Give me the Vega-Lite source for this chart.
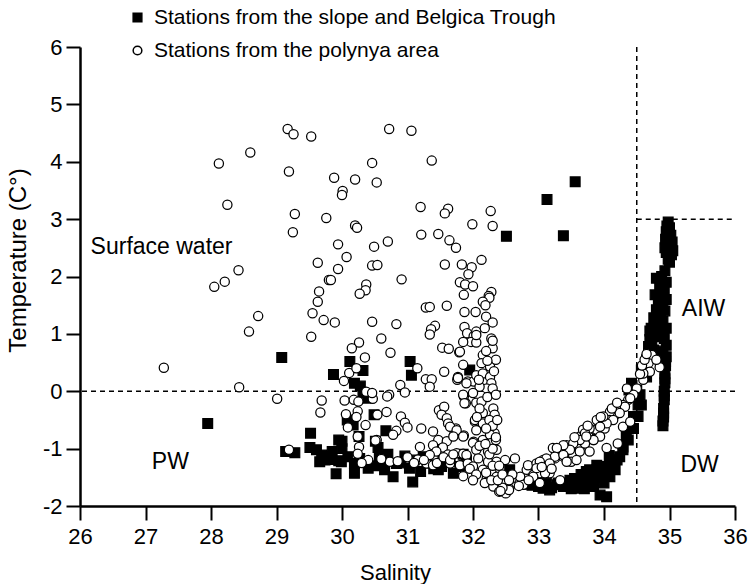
{
"$schema": "https://vega.github.io/schema/vega-lite/v6.json",
"width": 655, "height": 459,
"autosize": {"type": "none"},
"padding": {"left": 80, "top": 47, "right": 19, "bottom": 78},
"background": "white",
"config": {"view": {"stroke": null}, "font": "Liberation Sans"},
"datasets": {
"pts": [
{"g":"A","s":27.95,"t":-0.56},{"g":"A","s":29.08,"t":0.59},{"g":"A","s":29.87,"t":0.29},{"g":"A","s":30.12,"t":0.52},{"g":"A","s":30.32,"t":0.36},{"g":"A","s":30.19,"t":0.14},{"g":"A","s":30.28,"t":0.09},{"g":"A","s":30.32,"t":-0.03},{"g":"A","s":30.37,"t":-0.12},{"g":"A","s":31.04,"t":0.52},{"g":"A","s":31.06,"t":0.28},{"g":"A","s":30.49,"t":-0.41},{"g":"A","s":30.17,"t":-0.59},{"g":"A","s":30.08,"t":-0.5},{"g":"A","s":29.52,"t":-0.73},{"g":"A","s":30.0,"t":-0.87},{"g":"A","s":30.26,"t":-0.79},{"g":"A","s":30.51,"t":-0.87},{"g":"A","s":30.67,"t":-0.69},{"g":"A","s":30.55,"t":-0.98},{"g":"A","s":31.95,"t":0.37},{"g":"A","s":32.51,"t":2.7},{"g":"A","s":33.13,"t":3.34},{"g":"A","s":33.38,"t":2.71},{"g":"A","s":33.56,"t":3.65},{"g":"A","s":29.95,"t":-0.85},
{"g":"A","s":29.14,"t":-1.05},{"g":"A","s":29.28,"t":-1.07},{"g":"A","s":29.51,"t":-0.98},{"g":"A","s":29.61,"t":-1.02},{"g":"A","s":29.69,"t":-1.11},{"g":"A","s":29.76,"t":-1.14},{"g":"A","s":29.66,"t":-1.23},{"g":"A","s":29.74,"t":-1.2},{"g":"A","s":29.81,"t":-1.19},{"g":"A","s":29.91,"t":-1.44},{"g":"A","s":29.95,"t":-1.21},{"g":"A","s":29.81,"t":-1.14},{"g":"A","s":29.99,"t":-1.23},{"g":"A","s":30.09,"t":-1.14},{"g":"A","s":30.19,"t":-1.26},{"g":"A","s":30.27,"t":-1.17},{"g":"A","s":30.4,"t":-1.34},{"g":"A","s":30.57,"t":-1.14},{"g":"A","s":30.63,"t":-1.26},{"g":"A","s":30.65,"t":-1.37},{"g":"A","s":30.78,"t":-1.49},{"g":"A","s":30.19,"t":-1.43},{"g":"A","s":30.83,"t":-1.26},{"g":"A","s":30.96,"t":-1.13},{"g":"A","s":31.03,"t":-1.34},{"g":"A","s":31.08,"t":-1.58},{"g":"A","s":31.24,"t":-1.14},{"g":"A","s":31.47,"t":-1.37},{"g":"A","s":31.57,"t":-1.2},{"g":"A","s":31.7,"t":-1.43},{"g":"A","s":31.8,"t":-1.31},{"g":"A","s":31.54,"t":-1.17},{"g":"A","s":31.52,"t":-1.31},{"g":"A","s":32.56,"t":-1.37},{"g":"A","s":29.85,"t":-1.05},{"g":"A","s":30.0,"t":-1.0},{"g":"A","s":30.7,"t":-1.1},{"g":"A","s":30.9,"t":-1.25},{"g":"A","s":31.1,"t":-1.2},{"g":"A","s":31.3,"t":-1.25},{"g":"A","s":31.4,"t":-1.35},{"g":"A","s":31.2,"t":-1.4},{"g":"A","s":31.65,"t":-1.22},{"g":"A","s":31.9,"t":-1.2},{"g":"A","s":30.5,"t":-1.3},{"g":"A","s":31.85,"t":-1.1},
{"g":"A","s":32.8,"t":-1.62},{"g":"A","s":32.9,"t":-1.64},{"g":"A","s":33.0,"t":-1.66},{"g":"A","s":33.07,"t":-1.69},{"g":"A","s":33.12,"t":-1.6},{"g":"A","s":33.17,"t":-1.72},{"g":"A","s":33.2,"t":-1.68},{"g":"A","s":33.28,"t":-1.63},{"g":"A","s":33.3,"t":-1.6},{"g":"A","s":33.38,"t":-1.66},{"g":"A","s":33.45,"t":-1.6},{"g":"A","s":33.48,"t":-1.55},{"g":"A","s":33.5,"t":-1.7},{"g":"A","s":33.55,"t":-1.52},{"g":"A","s":33.56,"t":-1.66},{"g":"A","s":33.6,"t":-1.6},{"g":"A","s":33.63,"t":-1.55},{"g":"A","s":33.63,"t":-1.69},{"g":"A","s":33.65,"t":-1.45},{"g":"A","s":33.7,"t":-1.7},{"g":"A","s":33.73,"t":-1.58},{"g":"A","s":33.73,"t":-1.4},{"g":"A","s":33.75,"t":-1.5},{"g":"A","s":33.78,"t":-1.37},{"g":"A","s":33.81,"t":-1.49},{"g":"A","s":33.84,"t":-1.66},{"g":"A","s":33.85,"t":-1.58},{"g":"A","s":33.89,"t":-1.29},{"g":"A","s":33.89,"t":-1.37},{"g":"A","s":33.89,"t":-1.49},{"g":"A","s":33.94,"t":-1.81},{"g":"A","s":33.95,"t":-1.5},{"g":"A","s":33.96,"t":-1.31},{"g":"A","s":34.0,"t":-1.6},{"g":"A","s":34.02,"t":-1.38},{"g":"A","s":34.04,"t":-1.84},{"g":"A","s":34.05,"t":-1.45},{"g":"A","s":34.08,"t":-1.12},{"g":"A","s":34.09,"t":-1.49},{"g":"A","s":34.11,"t":-1.26},{"g":"A","s":34.15,"t":-1.2},{"g":"A","s":34.17,"t":-1.37},{"g":"A","s":34.2,"t":-1.2},{"g":"A","s":34.24,"t":-1.14},{"g":"A","s":34.29,"t":-1.02},{"g":"A","s":34.29,"t":-0.97},{"g":"A","s":34.34,"t":-0.79},{"g":"A","s":34.37,"t":-0.85},{"g":"A","s":34.4,"t":-0.65},{"g":"A","s":34.45,"t":-0.65},{"g":"A","s":34.45,"t":-0.44},{"g":"A","s":34.52,"t":-0.44},{"g":"A","s":34.52,"t":-0.24},{"g":"A","s":34.57,"t":-0.24},{"g":"A","s":34.55,"t":-0.06},{"g":"A","s":34.5,"t":0.02},{"g":"A","s":34.42,"t":0.14},{"g":"A","s":34.38,"t":0.02},{"g":"A","s":34.57,"t":0.37},{"g":"A","s":34.62,"t":0.42},{"g":"A","s":34.65,"t":0.25},{"g":"A","s":34.65,"t":0.55},{"g":"A","s":34.68,"t":0.66},{"g":"A","s":34.7,"t":0.9},{"g":"A","s":34.76,"t":0.72},{"g":"A","s":34.68,"t":0.78},{"g":"A","s":34.73,"t":0.87},
{"g":"A","s":34.98,"t":2.95},{"g":"A","s":34.96,"t":2.88},{"g":"A","s":35.0,"t":2.85},{"g":"A","s":34.95,"t":2.78},{"g":"A","s":35.02,"t":2.72},{"g":"A","s":34.94,"t":2.65},{"g":"A","s":35.04,"t":2.6},{"g":"A","s":34.97,"t":2.55},{"g":"A","s":34.93,"t":2.5},{"g":"A","s":35.05,"t":2.45},{"g":"A","s":35.03,"t":2.38},{"g":"A","s":34.95,"t":2.42},{"g":"A","s":34.98,"t":2.3},{"g":"A","s":35.0,"t":2.25},{"g":"A","s":34.93,"t":2.1},{"g":"A","s":34.88,"t":2.0},{"g":"A","s":34.8,"t":1.97},{"g":"A","s":34.95,"t":1.9},{"g":"A","s":34.85,"t":1.85},{"g":"A","s":34.92,"t":1.78},{"g":"A","s":34.78,"t":1.68},{"g":"A","s":34.87,"t":1.65},{"g":"A","s":34.95,"t":1.6},{"g":"A","s":34.83,"t":1.55},{"g":"A","s":34.9,"t":1.5},{"g":"A","s":34.8,"t":1.42},{"g":"A","s":34.93,"t":1.4},{"g":"A","s":34.86,"t":1.32},{"g":"A","s":34.76,"t":1.28},{"g":"A","s":34.9,"t":1.22},{"g":"A","s":34.82,"t":1.18},{"g":"A","s":34.72,"t":1.1},{"g":"A","s":34.95,"t":1.1},{"g":"A","s":34.7,"t":1.05},{"g":"A","s":34.85,"t":1.02},{"g":"A","s":34.78,"t":0.95},{"g":"A","s":34.92,"t":0.92},{"g":"A","s":34.9,"t":0.7},{"g":"A","s":34.95,"t":0.8},{"g":"A","s":34.95,"t":0.6},{"g":"A","s":34.94,"t":0.45},{"g":"A","s":34.93,"t":0.3},{"g":"A","s":34.93,"t":0.15},{"g":"A","s":34.92,"t":0.0},{"g":"A","s":34.92,"t":-0.15},{"g":"A","s":34.91,"t":-0.3},{"g":"A","s":34.91,"t":-0.45},{"g":"A","s":34.9,"t":-0.6},{"g":"A","s":34.94,"t":0.52},{"g":"A","s":34.93,"t":0.22},{"g":"A","s":34.92,"t":-0.08},{"g":"A","s":34.91,"t":-0.38},{"g":"A","s":34.9,"t":-0.52},
{"g":"B","s":29.17,"t":4.57},{"g":"B","s":29.26,"t":4.48},{"g":"B","s":29.53,"t":4.44},{"g":"B","s":28.6,"t":4.16},{"g":"B","s":28.12,"t":3.97},{"g":"B","s":29.19,"t":3.83},{"g":"B","s":28.25,"t":3.25},{"g":"B","s":29.28,"t":3.09},{"g":"B","s":29.76,"t":3.02},{"g":"B","s":29.25,"t":2.77},{"g":"B","s":29.63,"t":2.24},{"g":"B","s":28.42,"t":2.11},{"g":"B","s":28.21,"t":1.91},{"g":"B","s":28.05,"t":1.82},{"g":"B","s":29.8,"t":1.94},{"g":"B","s":29.65,"t":1.74},{"g":"B","s":29.63,"t":1.56},
{"g":"B","s":27.28,"t":0.41},{"g":"B","s":28.43,"t":0.07},{"g":"B","s":28.72,"t":1.31},{"g":"B","s":28.58,"t":1.04},{"g":"B","s":29.53,"t":0.95},{"g":"B","s":29.55,"t":1.36},{"g":"B","s":29.72,"t":1.24},{"g":"B","s":29.89,"t":1.2},
{"g":"B","s":30.72,"t":4.57},{"g":"B","s":31.06,"t":4.54},{"g":"B","s":31.37,"t":4.02},{"g":"B","s":30.46,"t":3.98},{"g":"B","s":29.88,"t":3.72},{"g":"B","s":30.2,"t":3.69},{"g":"B","s":30.53,"t":3.64},{"g":"B","s":30.01,"t":3.49},{"g":"B","s":30.0,"t":3.42},{"g":"B","s":31.2,"t":3.21},{"g":"B","s":31.62,"t":3.18},{"g":"B","s":31.57,"t":3.1},{"g":"B","s":32.27,"t":3.14},{"g":"B","s":30.2,"t":2.89},{"g":"B","s":30.23,"t":2.85},{"g":"B","s":31.99,"t":2.91},{"g":"B","s":32.3,"t":2.88},{"g":"B","s":31.21,"t":2.73},{"g":"B","s":31.47,"t":2.74},{"g":"B","s":31.64,"t":2.63},{"g":"B","s":31.74,"t":2.5},{"g":"B","s":30.7,"t":2.61},{"g":"B","s":29.94,"t":2.56},{"g":"B","s":30.49,"t":2.52},{"g":"B","s":30.07,"t":2.34},{"g":"B","s":30.46,"t":2.19},{"g":"B","s":30.54,"t":2.2},{"g":"B","s":29.94,"t":2.13},{"g":"B","s":29.83,"t":1.94},{"g":"B","s":30.37,"t":1.86},{"g":"B","s":30.36,"t":1.76},{"g":"B","s":30.27,"t":1.7},{"g":"B","s":30.91,"t":1.95},{"g":"B","s":31.57,"t":2.21},{"g":"B","s":31.83,"t":2.21},{"g":"B","s":31.98,"t":2.16},{"g":"B","s":32.13,"t":2.29},{"g":"B","s":31.93,"t":2.04},{"g":"B","s":31.8,"t":1.9},{"g":"B","s":31.88,"t":1.86},{"g":"B","s":32.0,"t":1.83},{"g":"B","s":31.86,"t":1.68},{"g":"B","s":32.28,"t":1.73},{"g":"B","s":32.24,"t":1.66},{"g":"B","s":32.25,"t":1.63},{"g":"B","s":32.15,"t":1.56},{"g":"B","s":32.19,"t":1.5},{"g":"B","s":31.28,"t":1.46},{"g":"B","s":31.34,"t":1.47},{"g":"B","s":31.6,"t":1.49},
{"g":"B","s":29.01,"t":-0.13},{"g":"B","s":29.69,"t":-0.16},{"g":"B","s":29.67,"t":-0.37},{"g":"B","s":29.19,"t":-1.02},
{"g":"B","s":30.46,"t":1.21},{"g":"B","s":30.83,"t":1.17},{"g":"B","s":31.87,"t":1.38},{"g":"B","s":32.04,"t":1.38},{"g":"B","s":31.42,"t":1.14},{"g":"B","s":31.36,"t":1.08},{"g":"B","s":31.34,"t":0.99},{"g":"B","s":31.87,"t":1.12},{"g":"B","s":31.91,"t":1.01},{"g":"B","s":32.01,"t":0.96},{"g":"B","s":31.97,"t":0.86},{"g":"B","s":31.85,"t":0.86},{"g":"B","s":31.79,"t":0.68},{"g":"B","s":32.05,"t":0.85},{"g":"B","s":30.6,"t":0.92},{"g":"B","s":30.26,"t":0.85},{"g":"B","s":30.15,"t":0.75},{"g":"B","s":30.74,"t":0.67},{"g":"B","s":30.35,"t":0.59},{"g":"B","s":31.53,"t":0.76},{"g":"B","s":31.63,"t":0.74},{"g":"B","s":30.11,"t":0.32},{"g":"B","s":30.03,"t":0.18},{"g":"B","s":31.15,"t":0.4},{"g":"B","s":31.28,"t":0.21},{"g":"B","s":31.37,"t":0.21},{"g":"B","s":31.34,"t":0.08},{"g":"B","s":31.56,"t":0.34},{"g":"B","s":30.89,"t":0.11},{"g":"B","s":30.96,"t":-0.02},{"g":"B","s":30.72,"t":-0.06},{"g":"B","s":30.69,"t":-0.09},{"g":"B","s":30.37,"t":-0.01},{"g":"B","s":30.47,"t":-0.13},{"g":"B","s":30.46,"t":-0.03},{"g":"B","s":30.04,"t":-0.16},{"g":"B","s":30.18,"t":-0.15},{"g":"B","s":30.24,"t":-0.35},{"g":"B","s":30.06,"t":-0.4},{"g":"B","s":30.22,"t":-0.45},{"g":"B","s":30.09,"t":-0.63},{"g":"B","s":30.36,"t":-0.59},{"g":"B","s":30.54,"t":-0.41},{"g":"B","s":30.68,"t":-0.36},{"g":"B","s":30.9,"t":-0.44},{"g":"B","s":30.96,"t":-0.55},{"g":"B","s":31.0,"t":-0.63},{"g":"B","s":30.83,"t":-0.69},{"g":"B","s":30.78,"t":-0.76},{"g":"B","s":30.53,"t":-0.85},{"g":"B","s":30.26,"t":-0.97},{"g":"B","s":30.24,"t":-1.09},{"g":"B","s":30.73,"t":-1.23},{"g":"B","s":31.19,"t":-0.97},{"g":"B","s":31.21,"t":-0.65},{"g":"B","s":31.39,"t":-0.7},{"g":"B","s":31.48,"t":-0.33},{"g":"B","s":31.56,"t":-0.27},{"g":"B","s":31.52,"t":-0.41},{"g":"B","s":31.6,"t":-0.47},{"g":"B","s":31.62,"t":-0.56},{"g":"B","s":31.74,"t":-0.65},{"g":"B","s":31.71,"t":-0.76},{"g":"B","s":31.86,"t":-0.77},{"g":"B","s":31.47,"t":-0.85},{"g":"B","s":31.6,"t":-0.87},{"g":"B","s":31.39,"t":-0.94},{"g":"B","s":31.54,"t":-0.98},{"g":"B","s":31.44,"t":-1.05},{"g":"B","s":31.34,"t":-1.11},{"g":"B","s":31.62,"t":-1.1},{"g":"B","s":31.75,"t":-1.08},{"g":"B","s":31.85,"t":-1.09},{"g":"B","s":31.16,"t":-1.19},{"g":"B","s":31.29,"t":-1.26},{"g":"B","s":31.39,"t":-1.29},{"g":"B","s":31.82,"t":-1.29},{"g":"B","s":31.85,"t":-1.48},{"g":"B","s":31.85,"t":0.46},{"g":"B","s":31.76,"t":0.2},{"g":"B","s":31.77,"t":0.25},{"g":"B","s":31.92,"t":0.17},{"g":"B","s":32.01,"t":0.17},{"g":"B","s":31.86,"t":-0.09},{"g":"B","s":31.89,"t":-0.21},{"g":"B","s":32.05,"t":-0.2},{"g":"B","s":32.03,"t":-0.53},{"g":"B","s":32.01,"t":-0.88},{"g":"B","s":32.05,"t":1.04},{"g":"B","s":30.22,"t":0.4},{"g":"B","s":30.25,"t":-0.18},{"g":"B","s":30.24,"t":-0.79},{"g":"B","s":30.51,"t":-0.86},
{"g":"B","s":32.05,"t":0.98},{"g":"B","s":32.28,"t":0.92},{"g":"B","s":31.8,"t":0.69},{"g":"B","s":32.15,"t":0.63},{"g":"B","s":32.13,"t":0.49},{"g":"B","s":32.26,"t":0.43},{"g":"B","s":31.77,"t":0.23},{"g":"B","s":31.9,"t":0.14},{"g":"B","s":32.05,"t":0.28},{"g":"B","s":32.15,"t":0.31},{"g":"B","s":32.26,"t":0.25},{"g":"B","s":32.28,"t":0.14},{"g":"B","s":32.21,"t":0.05},{"g":"B","s":32.1,"t":0.08},{"g":"B","s":32.0,"t":-0.03},{"g":"B","s":31.85,"t":-0.06},{"g":"B","s":31.87,"t":-0.21},{"g":"B","s":32.13,"t":-0.18},{"g":"B","s":32.31,"t":-0.3},{"g":"B","s":32.15,"t":-0.38},{"g":"B","s":32.03,"t":-0.5},{"g":"B","s":32.15,"t":-0.56},{"g":"B","s":32.33,"t":-0.41},{"g":"B","s":31.65,"t":-0.62},{"g":"B","s":31.75,"t":-0.68},{"g":"B","s":31.85,"t":-0.79},{"g":"B","s":31.7,"t":-0.79},{"g":"B","s":32.05,"t":-0.68},{"g":"B","s":32.33,"t":-0.73},{"g":"B","s":32.15,"t":-0.85},{"g":"B","s":32.26,"t":-0.76},{"g":"B","s":32.0,"t":-0.9},{"g":"B","s":32.28,"t":-0.9},{"g":"B","s":32.05,"t":-1.02},{"g":"B","s":32.23,"t":-1.05},{"g":"B","s":32.36,"t":-1.02},{"g":"B","s":32.64,"t":-1.17},{"g":"B","s":31.9,"t":-1.11},{"g":"B","s":31.65,"t":-1.26},{"g":"B","s":31.8,"t":-1.29},{"g":"B","s":31.92,"t":-1.26},{"g":"B","s":32.08,"t":-1.17},{"g":"B","s":32.23,"t":-1.23},{"g":"B","s":32.36,"t":-1.23},{"g":"B","s":32.49,"t":-1.2},{"g":"B","s":32.0,"t":-1.31},{"g":"B","s":32.15,"t":-1.37},{"g":"B","s":32.28,"t":-1.4},{"g":"B","s":32.36,"t":-1.49},{"g":"B","s":32.44,"t":-1.6},{"g":"B","s":32.46,"t":-1.72},{"g":"B","s":32.56,"t":-1.66},{"g":"B","s":32.66,"t":-1.6},{"g":"B","s":32.59,"t":-1.52},{"g":"B","s":32.72,"t":-1.49},{"g":"B","s":32.82,"t":-1.37},{"g":"B","s":32.84,"t":-1.29},{"g":"B","s":32.92,"t":-1.46},{"g":"B","s":33.02,"t":-1.43},{"g":"B","s":32.97,"t":-1.26},{"g":"B","s":33.07,"t":-1.2},{"g":"B","s":33.12,"t":-1.31},{"g":"B","s":33.17,"t":-1.43},{"g":"B","s":33.25,"t":-1.17},{"g":"B","s":33.22,"t":-0.99},{"g":"B","s":33.3,"t":-1.11},{"g":"B","s":33.38,"t":-1.14},{"g":"B","s":33.45,"t":-1.05},{"g":"B","s":33.43,"t":-0.94},{"g":"B","s":33.5,"t":-0.99},{"g":"B","s":33.56,"t":-0.91},{"g":"B","s":33.53,"t":-1.11},{"g":"B","s":33.63,"t":-0.97},{"g":"B","s":33.63,"t":-0.79},{"g":"B","s":33.71,"t":-0.91},{"g":"B","s":33.76,"t":-0.73},{"g":"B","s":33.84,"t":-0.85},{"g":"B","s":33.86,"t":-0.67},{"g":"B","s":33.89,"t":-0.5},{"g":"B","s":33.68,"t":-0.67},{"g":"B","s":33.5,"t":-1.23},{"g":"B","s":32.36,"t":-1.6},{"g":"B","s":32.21,"t":-1.52},{"g":"B","s":32.18,"t":-1.6},{"g":"B","s":32.31,"t":-1.66},{"g":"B","s":32.77,"t":-1.63},
{"g":"B","s":34.73,"t":0.63},{"g":"B","s":34.85,"t":0.42},{"g":"B","s":34.68,"t":0.49},{"g":"B","s":34.7,"t":0.34},{"g":"B","s":34.6,"t":0.2},{"g":"B","s":34.5,"t":0.05},{"g":"B","s":34.45,"t":-0.06},{"g":"B","s":34.37,"t":-0.15},{"g":"B","s":34.29,"t":-0.24},{"g":"B","s":34.22,"t":-0.32},{"g":"B","s":34.17,"t":-0.41},{"g":"B","s":34.09,"t":-0.36},{"g":"B","s":34.09,"t":-0.5},{"g":"B","s":33.99,"t":-0.53},{"g":"B","s":34.01,"t":-0.65},{"g":"B","s":34.29,"t":-0.62},{"g":"B","s":34.4,"t":-0.53},{"g":"B","s":33.89,"t":-0.67},{"g":"B","s":33.94,"t":-0.79},{"g":"B","s":33.78,"t":-0.65},{"g":"B","s":33.71,"t":-0.73},{"g":"B","s":33.84,"t":-0.85},{"g":"B","s":34.04,"t":-0.99},{"g":"B","s":34.21,"t":-0.91},{"g":"B","s":33.63,"t":-0.85},{"g":"B","s":33.53,"t":-0.91},{"g":"B","s":33.48,"t":-1.02},{"g":"B","s":33.38,"t":-0.94},{"g":"B","s":33.28,"t":-0.99},{"g":"B","s":33.25,"t":-1.14},{"g":"B","s":33.38,"t":-1.11},{"g":"B","s":33.63,"t":-1.05},{"g":"B","s":33.78,"t":-1.05},{"g":"B","s":33.58,"t":-1.2},{"g":"B","s":33.12,"t":-1.17},{"g":"B","s":33.17,"t":-1.26},{"g":"B","s":33.02,"t":-1.23},{"g":"B","s":32.97,"t":-1.34},{"g":"B","s":33.1,"t":-1.43},{"g":"B","s":32.92,"t":-1.49},{"g":"B","s":33.02,"t":-1.6},{"g":"B","s":33.33,"t":-1.55},{"g":"B","s":33.43,"t":-1.23},{"g":"B","s":34.6,"t":0.31},{"g":"B","s":34.4,"t":-0.12},{"g":"B","s":34.32,"t":-0.27},{"g":"B","s":34.24,"t":-0.38},{"g":"B","s":34.14,"t":-0.5},{"g":"B","s":34.04,"t":-0.56},{"g":"B","s":33.94,"t":-0.62},{"g":"B","s":33.99,"t":-0.44},{"g":"B","s":33.73,"t":-0.79},
{"g":"B","s":32.2,"t":1.3},{"g":"B","s":32.3,"t":1.2},{"g":"B","s":32.18,"t":1.1},{"g":"B","s":32.3,"t":0.75},{"g":"B","s":32.2,"t":0.7},{"g":"B","s":32.35,"t":0.55},{"g":"B","s":32.3,"t":0.05},{"g":"B","s":32.22,"t":-0.1},{"g":"B","s":32.1,"t":-0.3},{"g":"B","s":32.25,"t":-0.5},{"g":"B","s":32.3,"t":-0.6},{"g":"B","s":32.2,"t":-0.65},{"g":"B","s":32.1,"t":-0.95},{"g":"B","s":32.25,"t":-1.1},{"g":"B","s":32.3,"t":-1.3},{"g":"B","s":32.2,"t":-1.42},{"g":"B","s":32.28,"t":-1.55},{"g":"B","s":32.4,"t":-1.75},{"g":"B","s":32.5,"t":-1.78},{"g":"B","s":32.55,"t":-1.72},{"g":"B","s":32.45,"t":-1.68},{"g":"B","s":32.38,"t":-1.55},{"g":"B","s":32.7,"t":-1.65},{"g":"B","s":32.85,"t":-1.55},{"g":"B","s":33.05,"t":-1.32},{"g":"B","s":33.2,"t":-1.35},{"g":"B","s":33.55,"t":-0.8},{"g":"B","s":33.75,"t":-0.6},{"g":"B","s":33.95,"t":-0.45},{"g":"B","s":34.12,"t":-0.3},{"g":"B","s":34.2,"t":-0.2},{"g":"B","s":34.35,"t":0.05},{"g":"B","s":34.55,"t":0.3},{"g":"B","s":34.58,"t":0.45},{"g":"B","s":34.62,"t":0.55},{"g":"B","s":34.8,"t":0.55},{"g":"B","s":34.65,"t":0.65},{"g":"B","s":32.4,"t":-1.3},{"g":"B","s":32.45,"t":-1.45},{"g":"B","s":32.6,"t":-1.45},{"g":"B","s":32.55,"t":-1.55},{"g":"B","s":32.3,"t":-1.0},{"g":"B","s":32.35,"t":-0.85},
{"g":"B","s":30.4,"t":-1.2},{"g":"B","s":30.6,"t":-1.18},{"g":"B","s":30.85,"t":-1.22},{"g":"B","s":31.0,"t":-1.15},{"g":"B","s":31.1,"t":-1.25},{"g":"B","s":31.25,"t":-1.2},{"g":"B","s":31.45,"t":-1.25},{"g":"B","s":31.55,"t":-1.15},{"g":"B","s":31.65,"t":-1.2},{"g":"B","s":31.7,"t":-1.1},{"g":"B","s":30.3,"t":-1.25},{"g":"B","s":31.95,"t":-1.35},{"g":"B","s":32.05,"t":-1.45},{"g":"B","s":32.0,"t":-1.55},
{"g":"B","s":32.3,"t":0.88},{"g":"B","s":32.22,"t":0.53},{"g":"B","s":32.32,"t":0.35},{"g":"B","s":32.09,"t":0.2},{"g":"B","s":32.35,"t":-0.06},{"g":"B","s":32.06,"t":-0.45},{"g":"B","s":32.37,"t":-0.5},{"g":"B","s":32.35,"t":-0.8},{"g":"B","s":32.19,"t":-0.92},{"g":"B","s":32.42,"t":-1.74}
],
"notes": [
{"label":"Surface water","s":27.245,"t":2.51},{"label":"PW","s":27.38,"t":-1.23},{"label":"AIW","s":35.52,"t":1.44},{"label":"DW","s":35.46,"t":-1.28}
]
},
"layer": [
{
"data": {"values": [{"t": 0}]},
"mark": {"type": "rule", "strokeDash": [5, 4], "strokeWidth": 1.5, "color": "black"},
"encoding": {"y": {"field": "t", "type": "quantitative", "scale": {"domain": [-2, 6], "nice": false, "zero": false}}}
},
{
"data": {"values": [{"s": 34.5}]},
"mark": {"type": "rule", "strokeDash": [5, 4], "strokeWidth": 1.5, "color": "black"},
"encoding": {"x": {"field": "s", "type": "quantitative", "scale": {"domain": [26, 36], "nice": false, "zero": false}}}
},
{
"data": {"values": [{"s": 34.5, "s2": 36, "t": 3}]},
"mark": {"type": "rule", "strokeDash": [5, 4], "strokeWidth": 1.5, "color": "black"},
"encoding": {
"x": {"field": "s", "type": "quantitative", "scale": {"domain": [26, 36], "nice": false, "zero": false}},
"x2": {"field": "s2"},
"y": {"field": "t", "type": "quantitative", "scale": {"domain": [-2, 6], "nice": false, "zero": false}}
}
},
{
"data": {"name": "pts"},
"mark": {"type": "point", "filled": true, "stroke": "black", "strokeWidth": 1.25, "opacity": 1},
"encoding": {
"x": {"field": "s", "type": "quantitative", "scale": {"domain": [26, 36], "nice": false, "zero": false},
"axis": {"title": "Salinity", "values": [26,26.5,27,27.5,28,28.5,29,29.5,30,30.5,31,31.5,32,32.5,33,33.5,34,34.5,35,35.5,36],
"labelExpr": "datum.value % 1 === 0 ? '' + datum.value : ''", "labelOverlap": false, "labelFlush": false,
"tickSize": {"condition": {"test": "datum.value % 1 === 0", "value": 14}, "value": 8},
"grid": false, "domainColor": "black", "domainWidth": 2.5, "tickColor": "black", "tickWidth": 2,
"labelFontSize": 22, "labelColor": "black", "labelPadding": 6, "labelFont": "Liberation Sans",
"titleFontSize": 22, "titleFontWeight": "normal", "titleColor": "black", "titleFont": "Liberation Sans",
"titleX": 315, "titleY": 66, "titleBaseline": "middle", "titleAlign": "center"}},
"y": {"field": "t", "type": "quantitative", "scale": {"domain": [-2, 6], "nice": false, "zero": false},
"axis": {"title": "Temperature (C°)", "values": [-2,-1.5,-1,-0.5,0,0.5,1,1.5,2,2.5,3,3.5,4,4.5,5,5.5,6],
"labelExpr": "datum.value % 1 === 0 ? '' + datum.value : ''", "labelOverlap": false, "labelFlush": false,
"tickSize": {"condition": {"test": "datum.value % 1 === 0", "value": 14}, "value": 8},
"grid": false, "domainColor": "black", "domainWidth": 2.5, "tickColor": "black", "tickWidth": 2,
"labelFontSize": 22, "labelColor": "black", "labelPadding": 4, "labelFont": "Liberation Sans",
"titleFontSize": 24, "titleFontWeight": "normal", "titleColor": "black", "titleFont": "Liberation Sans",
"titleX": -62, "titleY": 213, "titleBaseline": "middle", "titleAlign": "center", "titleAngle": -90}},
"shape": {"field": "g", "type": "nominal", "scale": {"domain": ["A", "B"], "range": ["square", "circle"]},
"legend": {"orient": "none", "legendX": 47, "legendY": -40, "title": null, "labelFontSize": 21, "labelColor": "black", "labelFont": "Liberation Sans", "labelLimit": 0, "symbolSize": 75, "rowPadding": 11, "labelOffset": 6,
"encode": {"symbols": {"update": {"stroke": {"value": "black"}, "strokeWidth": {"value": 1.2}}}},
"labelExpr": "datum.label == 'A' ? 'Stations from the slope and Belgica Trough' : 'Stations from the polynya area'"}},
"fill": {"field": "g", "type": "nominal", "scale": {"domain": ["A", "B"], "range": ["black", "white"]},
"legend": {"orient": "none", "legendX": 47, "legendY": -40, "title": null, "labelFontSize": 21, "labelColor": "black", "labelFont": "Liberation Sans", "labelLimit": 0, "symbolSize": 75, "rowPadding": 11, "labelOffset": 6,
"encode": {"symbols": {"update": {"stroke": {"value": "black"}, "strokeWidth": {"value": 1.2}}}},
"labelExpr": "datum.label == 'A' ? 'Stations from the slope and Belgica Trough' : 'Stations from the polynya area'"}},
"size": {"condition": {"test": "datum.g == 'A'", "value": 95}, "value": 85}
}
},
{
"data": {"name": "notes"},
"mark": {"type": "text", "fontSize": 23, "font": "Liberation Sans", "color": "black", "align": "center", "baseline": "middle"},
"encoding": {
"x": {"field": "s", "type": "quantitative", "scale": {"domain": [26, 36], "nice": false, "zero": false}},
"y": {"field": "t", "type": "quantitative", "scale": {"domain": [-2, 6], "nice": false, "zero": false}},
"text": {"field": "label"}
}
}
]
}
